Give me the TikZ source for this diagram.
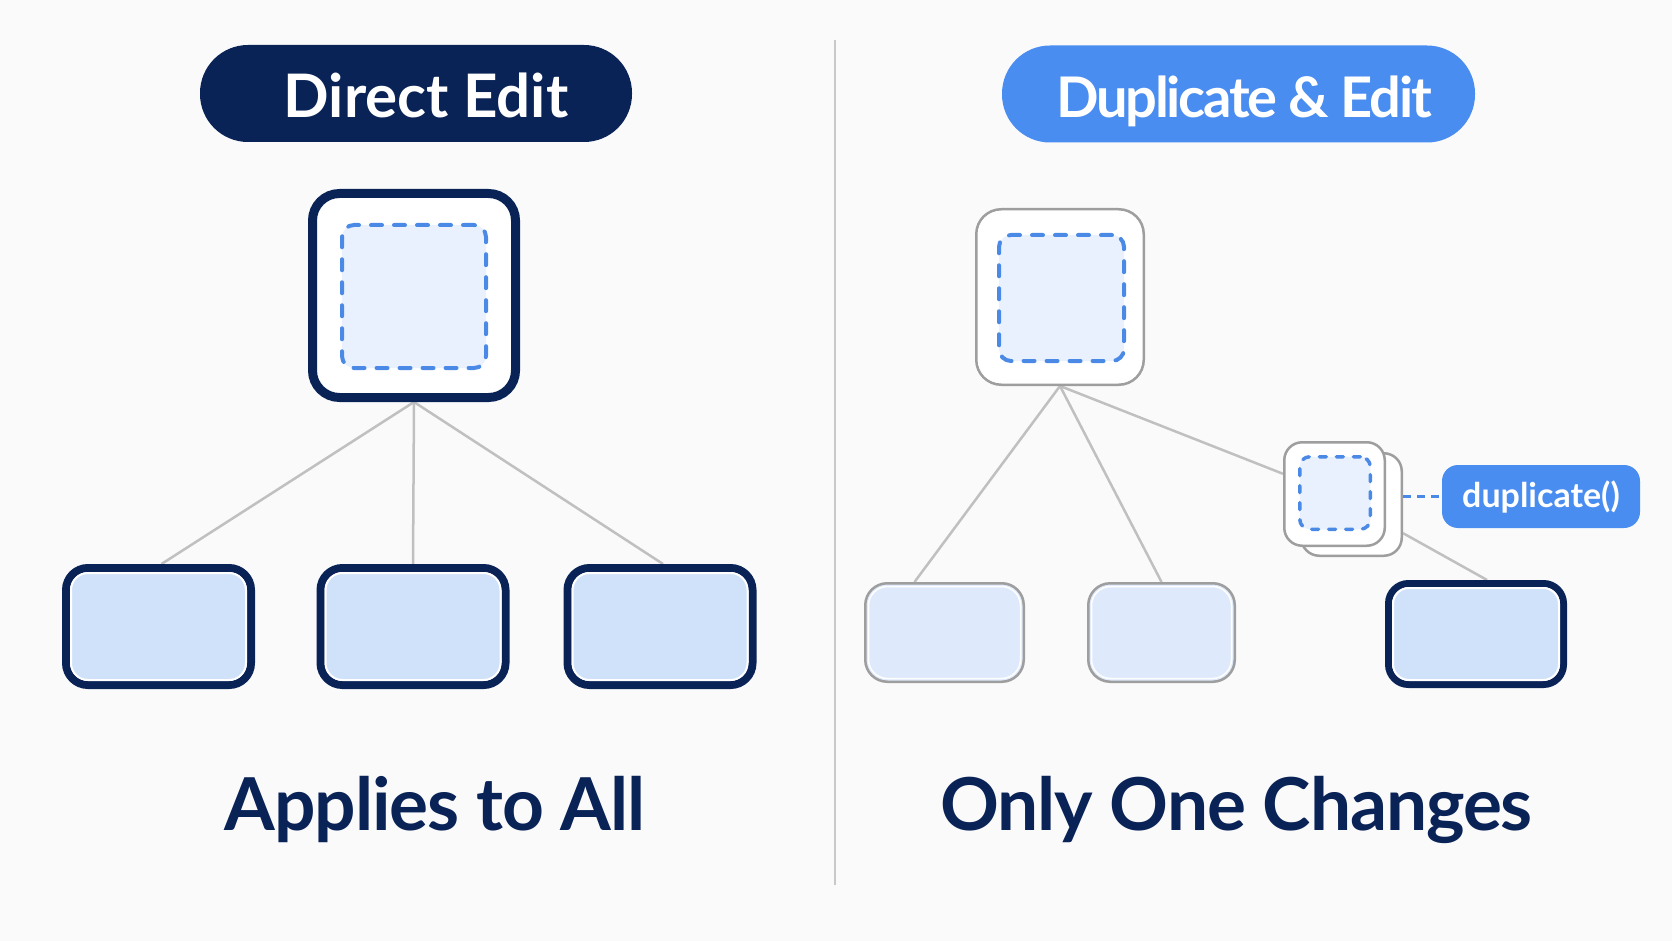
\documentclass[tikz,border=0pt]{standalone}
\usepackage{fontspec}
\setmainfont{Lato}
\usetikzlibrary{calc}
\definecolor{navy}{HTML}{0A2357}
\definecolor{pillblue}{HTML}{4A8DF0}
\definecolor{dashblue}{HTML}{4A8AE6}
\definecolor{innerfill}{HTML}{E8F1FD}
\definecolor{childdark}{HTML}{CFE2FA}
\definecolor{childlight}{HTML}{DEEAFB}
\definecolor{boxgray}{HTML}{9E9E9E}
\definecolor{linegray}{HTML}{C0C0C0}
\definecolor{divgray}{HTML}{C8C8C8}
\definecolor{bgcol}{HTML}{FAFAFB}
\pgfdeclarelayer{back}
\pgfdeclarelayer{edges}
\pgfsetlayers{back,edges,main}
\tikzset{
  pill/.style={rounded corners=48pt, inner sep=0pt, text=white, text depth=0pt},
  pilltext/.style={text=white, inner sep=0pt, anchor=base},
  navybox/.style={draw=navy, fill=white, inner sep=0pt},
  graybox/.style={draw=boxgray, line width=2.5pt, fill=white, inner sep=0pt},
  innerring/.style={draw=white, line width=2pt, inner sep=0pt},
  dashbox/.style={draw=dashblue, fill=innerfill, line cap=round, dash pattern=on 11pt off 12pt, inner sep=0pt},
  conn/.style={draw=linegray, line width=2.5pt},
  bigtext/.style={text=navy, font=\bfseries\fontsize{73}{73}\selectfont\addfontfeatures{LetterSpace=-1.5}, anchor=base, inner sep=0pt},
}
\begin{document}
\begin{tikzpicture}[x=1pt,y=-1pt]
\begin{pgfonlayer}{back}
\fill[bgcol] (0,0) rectangle (1672,941);
\end{pgfonlayer}
\useasboundingbox (0,0) rectangle (1672,941);

% divider
\coordinate (dtop) at (835,40);
\coordinate (dbot) at (835,885);
\draw[divgray, line width=2pt] (dtop) -- (dbot);

% pills
\node[pill, fill=navy, minimum width=432pt, minimum height=97pt] (p1) at (416,93.5) {};
\node[pilltext, font=\bfseries\fontsize{60}{60}\selectfont] (p1t) at (426,118) {Direct Edit};
\node[pill, fill=pillblue, minimum width=473pt, minimum height=97pt] (p2) at (1238.5,94) {};
\node[pilltext, font=\bfseries\fontsize{56}{56}\selectfont\addfontfeatures{LetterSpace=-4}] (p2t) at (1244,118) {Duplicate \& Edit};

% ---------- left ----------
\node[navybox, line width=9pt, rounded corners=27pt, minimum width=203pt, minimum height=204pt] (lt) at (414,295.5) {};
\node[dashbox, line width=4pt, rounded corners=12pt, minimum width=144pt, minimum height=143pt] (ltd) at (414,296.5) {};

\foreach \n/\x in {l1/158.5, l2/413, l3/660}{
  \node[navybox, line width=8pt, rounded corners=22pt, minimum width=185pt, minimum height=117pt] (\n) at (\x,626.5) {};
  \node[innerring, fill=childdark, rounded corners=17pt, minimum width=175pt, minimum height=107pt] (\n i) at (\x,626.5) {};
}
\begin{pgfonlayer}{edges}
\draw[conn] (lt.south) -- ([xshift=3pt]l1.north);
\draw[conn] (lt.south) -- (l2.north);
\draw[conn] (lt.south) -- ([xshift=3pt]l3.north);
\end{pgfonlayer}

\node[bigtext] (t1) at (435,830) {Applies to All};

% ---------- right ----------
\node[graybox, rounded corners=25pt, minimum width=167.5pt, minimum height=175.5pt] (rt) at (1060,297) {};
\node[dashbox, line width=4pt, rounded corners=12pt, minimum width=125pt, minimum height=126pt] (rtd) at (1061.5,298) {};

\node[graybox, rounded corners=18pt, minimum width=100.5pt, minimum height=102.5pt] (db) at (1351.5,504.5) {};
\node[graybox, rounded corners=18pt, minimum width=100.5pt, minimum height=103.5pt] (df) at (1334.5,494) {};
\node[dashbox, line width=3.5pt, rounded corners=10pt, dash pattern=on 7pt off 10pt, minimum width=70.5pt, minimum height=72.5pt] (dfd) at (1335,493) {};

\node[fill=pillblue, rounded corners=16pt, minimum width=198pt, minimum height=63pt, inner sep=0pt, text=white, font=\bfseries\fontsize{34}{34}\selectfont] (dl) at (1541,496.5) {duplicate()};

\node[graybox, fill=childlight, rounded corners=22pt, minimum width=158.5pt, minimum height=98.5pt] (ra) at (944.5,632.5) {};
\node[innerring, fill=childlight, line width=1.5pt, rounded corners=19pt, minimum width=152pt, minimum height=92pt] (rai) at (944.5,632.5) {};
\node[graybox, fill=childlight, rounded corners=22pt, minimum width=146.5pt, minimum height=98.5pt] (rb) at (1161.5,632.5) {};
\node[innerring, fill=childlight, line width=1.5pt, rounded corners=19pt, minimum width=140pt, minimum height=92pt] (rbi) at (1161.5,632.5) {};
\node[navybox, line width=7pt, rounded corners=20pt, minimum width=175pt, minimum height=101pt] (rc) at (1476,634) {};
\node[innerring, fill=childdark, rounded corners=16pt, minimum width=166pt, minimum height=92pt] (rci) at (1476,634) {};

\begin{pgfonlayer}{edges}
\draw[conn] (rt.south) -- ([xshift=-30pt]ra.north);
\draw[conn] (rt.south) -- (rb.north);
\draw[conn] (rt.south) -- (df);
\draw[conn] (db) -- ([xshift=11pt]rc.north);
\draw[draw=dashblue, line width=3pt, dash pattern=on 8pt off 6pt] (db.east |- dl) -- (dl.west);
\end{pgfonlayer}

\node[bigtext] (t2) at (1236.5,830) {Only One Changes};
\end{tikzpicture}
\end{document}
